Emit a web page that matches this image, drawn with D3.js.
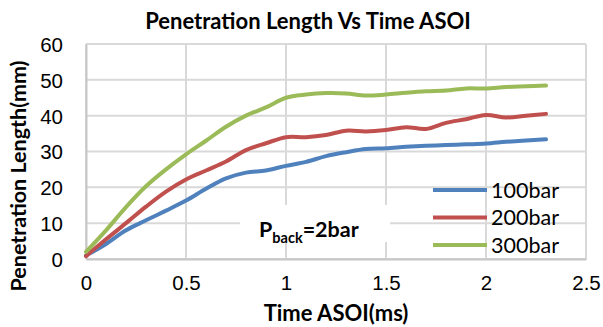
<!DOCTYPE html>
<html>
<head>
<meta charset="utf-8">
<script src="https://cdn.jsdelivr.net/npm/d3@7"></script>
<style>
  html, body { margin: 0; padding: 0; background: #fff; }
  svg { display: block; font-family: Lato, "Open Sans", sans-serif; }
</style>
</head>
<body>
<svg id="chart" width="603" height="327"></svg>
<script>
// Spray penetration length over time after start of injection
const timeMs = [0, 0.1, 0.2, 0.3, 0.4, 0.5, 0.6, 0.7, 0.8, 0.9, 1.0, 1.1,
                1.2, 1.3, 1.4, 1.5, 1.6, 1.7, 1.8, 1.9, 2.0, 2.1, 2.2, 2.3];
const bar100 = [1.0, 4.2, 8.0, 10.8, 13.5, 16.3, 19.6, 22.5, 24.1, 24.7, 26.0, 27.1,
                28.7, 29.8, 30.7, 30.9, 31.3, 31.6, 31.8, 32.0, 32.2, 32.7, 33.1, 33.4];
const bar200 = [0.8, 5.5, 10.0, 14.6, 18.8, 22.2, 24.7, 27.2, 30.4, 32.3, 34.0, 34.0,
                34.6, 35.8, 35.6, 36.0, 36.8, 36.3, 38.0, 39.0, 40.2, 39.5, 40.0, 40.5];
const bar300 = [2.0, 8.0, 14.5, 20.3, 25.0, 29.2, 33.0, 36.9, 40.0, 42.3, 45.0, 45.9,
                46.3, 46.2, 45.6, 45.9, 46.4, 46.8, 47.0, 47.6, 47.6, 48.0, 48.2, 48.4];
const seriesNames = ["100bar", "200bar", "300bar"];
const seriesColors = ["#4F81BD", "#C0504D", "#9BBB59"];
const xTicks = [0, 0.5, 1, 1.5, 2, 2.5];
const yTicks = [0, 10, 20, 30, 40, 50, 60];

const series = [bar100, bar200, bar300].map((vals, i) => ({
  name: seriesNames[i],
  color: seriesColors[i],
  points: timeMs.map((t, j) => [t, vals[j]])
}));

const svg = d3.select("#chart");
const plot = { left: 86, right: 586, top: 44, bottom: 259 };

const x = d3.scaleLinear().domain([0, 2.5]).range([plot.left, plot.right]);
const y = d3.scaleLinear().domain([0, 60]).range([plot.bottom, plot.top]);

// Gridlines
const grid = svg.append("g").attr("stroke", "#d9d9d9").attr("stroke-width", 2);
grid.selectAll("line.h").data(yTicks).join("line")
  .attr("x1", plot.left).attr("x2", plot.right)
  .attr("y1", d => y(d)).attr("y2", d => y(d));
grid.selectAll("line.v").data(xTicks).join("line")
  .attr("y1", plot.top).attr("y2", plot.bottom)
  .attr("x1", d => x(d)).attr("x2", d => x(d));

// Axes (tick labels only, no tick marks)
const xAxis = d3.axisBottom(x).tickValues(xTicks).tickSize(0).tickPadding(0)
  .tickFormat(d => String(d));
const gx = svg.append("g").attr("transform", `translate(0,${plot.bottom})`).call(xAxis);
gx.select(".domain").attr("stroke", "#c6c6c6").attr("stroke-width", 2);
gx.selectAll("text").attr("y", 31).attr("dy", 0)
  .style("font-size", "20.5px").attr("fill", "#000");

const yAxis = d3.axisLeft(y).tickValues(yTicks).tickSize(0).tickPadding(0);
const gy = svg.append("g").attr("transform", `translate(${plot.left},0)`).call(yAxis);
gy.select(".domain").attr("stroke", "#c6c6c6").attr("stroke-width", 2);
gy.selectAll("text").attr("x", -23).attr("dy", "0.36em")
  .style("font-size", "20.5px").attr("fill", "#000");

// Annotation box with back pressure
const note = svg.append("g");
note.append("rect")
  .attr("x", 240).attr("y", 205).attr("width", 150).attr("height", 37)
  .attr("fill", "#fff");
const noteText = note.append("text")
  .attr("x", 259).attr("y", 237)
  .attr("font-weight", "bold").style("font-size", "21.5px").attr("fill", "#000");
noteText.append("tspan").text("P");
noteText.append("tspan").attr("dy", 6).style("font-size", "14.5px").text("back");
noteText.append("tspan").attr("dy", -6).text("=2bar");

// Series lines
const line = d3.line()
  .x(d => x(d[0])).y(d => y(d[1]))
  .curve(d3.curveCatmullRom.alpha(0.5));
svg.append("g").selectAll("path").data(series).join("path")
  .attr("d", d => line(d.points))
  .attr("fill", "none")
  .attr("stroke", d => d.color)
  .attr("stroke-width", 4)
  .attr("stroke-linecap", "round")
  .attr("stroke-linejoin", "round");

// Legend
const legend = svg.append("g");
const legRows = legend.selectAll("g").data(series).join("g")
  .attr("transform", (d, i) => `translate(433,${190 + i * 27.5})`);
legRows.append("line")
  .attr("x1", 0).attr("x2", 54).attr("y1", 0).attr("y2", 0)
  .attr("stroke", d => d.color).attr("stroke-width", 4);
legRows.append("text")
  .attr("x", 58).attr("dy", "0.36em")
  .style("font-size", "21.5px").attr("fill", "#000")
  .text(d => d.name);

// Titles
svg.append("text")
  .attr("x", 308).attr("y", 29).attr("text-anchor", "middle")
  .attr("font-weight", "bold").style("font-size", "22px").attr("fill", "#000")
  .text("Penetration Length Vs Time ASOI");

svg.append("text")
  .attr("x", 336).attr("y", 321).attr("text-anchor", "middle")
  .attr("font-weight", "bold").style("font-size", "22px").attr("fill", "#000")
  .text("Time ASOI(ms)");

svg.append("text")
  .attr("transform", "translate(26,176) rotate(-90)")
  .attr("text-anchor", "middle")
  .attr("font-weight", "bold").style("font-size", "21.5px").attr("fill", "#000")
  .text("Penetration Length(mm)");
</script>
</body>
</html>
